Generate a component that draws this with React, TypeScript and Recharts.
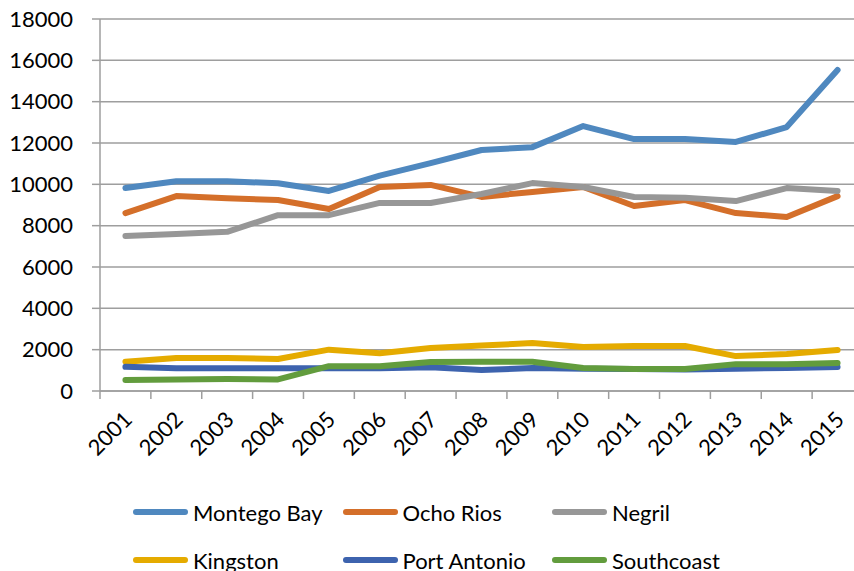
import { LineChart, Line, XAxis, YAxis, CartesianGrid } from 'recharts';

const years = ['2001', '2002', '2003', '2004', '2005', '2006', '2007', '2008', '2009', '2010', '2011', '2012', '2013', '2014', '2015'];
const montegoBay = [9820, 10150, 10150, 10050, 9680, 10420, 11030, 11660, 11800, 12820, 12190, 12190, 12050, 12770, 15530];
const ochoRios = [8610, 9430, 9330, 9240, 8810, 9870, 9970, 9390, 9630, 9870, 8950, 9240, 8610, 8420, 9430];
const negril = [7500, 7600, 7700, 8510, 8510, 9100, 9100, 9530, 10060, 9870, 9390, 9350, 9190, 9820, 9680];
const kingston = [1420, 1600, 1600, 1550, 2000, 1830, 2080, 2200, 2320, 2130, 2180, 2180, 1690, 1790, 1980];
const portAntonio = [1170, 1100, 1100, 1100, 1100, 1100, 1150, 1020, 1110, 1080, 1060, 1040, 1080, 1110, 1160];
const southcoast = [530, 560, 580, 560, 1200, 1200, 1400, 1420, 1420, 1110, 1060, 1060, 1300, 1300, 1360];
const yTicks = [0, 2000, 4000, 6000, 8000, 10000, 12000, 14000, 16000, 18000];

const series = [
  { key: 'Montego Bay', values: montegoBay, color: '#4F88BF' },
  { key: 'Ocho Rios', values: ochoRios, color: '#D46F2A' },
  { key: 'Negril', values: negril, color: '#979797' },
  { key: 'Kingston', values: kingston, color: '#E5AB00' },
  { key: 'Port Antonio', values: portAntonio, color: '#3D63AE' },
  { key: 'Southcoast', values: southcoast, color: '#629C3D' },
];

const data = years.map((year, i) => {
  const row: any = { year };
  series.forEach((s) => { row[s.key] = s.values[i]; });
  return row;
});

const CHART_W = 863;
const Y_AXIS_W = 100;
const BAND = (CHART_W - Y_AXIS_W) / years.length;
const FONT = 'Lato, "Open Sans", sans-serif';
const AXIS_COLOR = '#9e9e9e';

// ticks sit between categories, labels at the category centre
const YearTick = ({ x, y, payload }: any) => (
  <g>
    <line x1={x - BAND / 2} y1={y - 8} x2={x - BAND / 2} y2={y} stroke={AXIS_COLOR} strokeWidth={1.5} />
    <text
      x={x + 8}
      y={y + 22}
      transform={`rotate(-45, ${x + 8}, ${y + 22})`}
      textAnchor="end"
      fontSize={22}
      fontFamily={FONT}
      fill="#000"
    >
      {payload.value}
    </text>
  </g>
);

export default function App() {
  return (
    <div style={{ position: 'fixed', left: 0, top: 0, width: 854, height: 571, overflow: 'hidden', background: '#fff', fontFamily: FONT }}>
      <LineChart width={CHART_W} height={470} data={data} margin={{ top: 19, right: 0, left: 0, bottom: 10 }}>
        <CartesianGrid vertical={false} stroke={AXIS_COLOR} strokeWidth={1.5} />
        <XAxis
          dataKey="year"
          height={69}
          padding={{ left: BAND / 2, right: BAND / 2 }}
          stroke={AXIS_COLOR}
          strokeWidth={1.5}
          tickLine={false}
          tick={<YearTick />}
          interval={0}
        />
        <YAxis
          width={Y_AXIS_W}
          domain={[0, 18000]}
          ticks={yTicks}
          stroke={AXIS_COLOR}
          strokeWidth={1.5}
          tickSize={8}
          tickMargin={19}
          tick={{ fontSize: 22, fill: '#000', fontFamily: FONT }}
        />
        {series.map((s) => (
          <Line
            key={s.key}
            dataKey={s.key}
            stroke={s.color}
            strokeWidth={6}
            strokeLinecap="round"
            strokeLinejoin="round"
            dot={false}
            isAnimationActive={false}
          />
        ))}
      </LineChart>
      {series.map((s, i) => (
        <div
          key={s.key}
          style={{
            position: 'absolute',
            left: 133 + (i % 3) * 209.5,
            top: (i < 3 ? 512 : 560) - 14,
            height: 28,
            display: 'flex',
            alignItems: 'center',
            fontSize: 22,
            color: '#000',
            whiteSpace: 'nowrap',
          }}
        >
          <span style={{ display: 'inline-block', width: 55, height: 6, borderRadius: 3, background: s.color, marginRight: 5 }} />
          {s.key}
        </div>
      ))}
    </div>
  );
}
